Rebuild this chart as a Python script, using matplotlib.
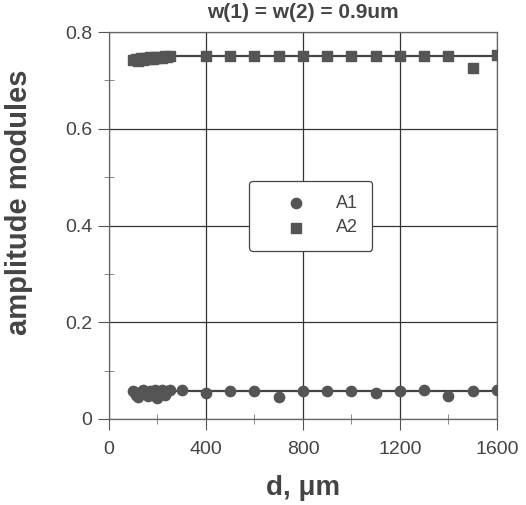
import matplotlib
matplotlib.use("Agg")
import matplotlib.pyplot as plt
from matplotlib.ticker import MultipleLocator

plt.rcParams["font.family"] = ["Liberation Sans", "DejaVu Sans"]

# A1 (circles)
d_a1 = [100, 110, 120, 130, 140, 150, 160, 170, 180, 190, 200, 210, 220, 230, 240, 250,
        300, 400, 500, 600, 700, 800, 900, 1000, 1100, 1200, 1300, 1400, 1500, 1600]
a1 = [0.058, 0.050, 0.045, 0.056, 0.060, 0.052, 0.047, 0.058, 0.050, 0.060, 0.044,
      0.055, 0.060, 0.050, 0.058, 0.060,
      0.059, 0.054, 0.058, 0.058, 0.046, 0.058, 0.058, 0.058, 0.054, 0.058, 0.059,
      0.047, 0.058, 0.059]

# A2 (squares)
d_a2 = [100, 110, 120, 130, 140, 150, 160, 170, 180, 190, 200, 210, 220, 230, 240, 250,
        400, 500, 600, 700, 800, 900, 1000, 1100, 1200, 1300, 1400, 1500, 1600]
a2 = [0.742, 0.744, 0.741, 0.746, 0.743, 0.747, 0.744, 0.748, 0.745, 0.748, 0.746,
      0.749, 0.747, 0.750, 0.748, 0.750,
      0.750, 0.750, 0.750, 0.750, 0.750, 0.750, 0.750, 0.750, 0.750, 0.750, 0.750,
      0.726, 0.752]

fit_a1 = 0.057
fit_a2 = 0.750
fit_range = [100, 1600]

x_ticks = [0, 400, 800, 1200, 1600]
x_labels = ["0", "400", "800", "1200", "1600"]
y_ticks = [0, 0.2, 0.4, 0.6, 0.8]
y_labels = ["0", "0.2", "0.4", "0.6", "0.8"]

fig = plt.figure(figsize=(5.26, 5.05), dpi=100)
ax = fig.add_axes([0.2072, 0.1703, 0.7376, 0.7663])

mc = "#555555"
tc = "#444444"

ax.plot(fit_range, [fit_a1] * 2, color="#444444", lw=1.6, zorder=2)
ax.plot(fit_range, [fit_a2] * 2, color="#444444", lw=1.6, zorder=2)
ax.scatter(d_a1, a1, marker="o", s=55, color=mc, zorder=3, label="A1")
ax.scatter(d_a2, a2, marker="s", s=45, color=mc, zorder=3, label="A2")

ax.set_xticks(x_ticks)
ax.set_xticklabels(x_labels)
ax.set_yticks(y_ticks)
ax.set_yticklabels(y_labels)
ax.xaxis.set_minor_locator(MultipleLocator(200))
ax.yaxis.set_minor_locator(MultipleLocator(0.1))
ax.set_xlim(0, 1600)
ax.set_ylim(0, 0.8)

ax.grid(True, which="major", color="#333333", lw=0.9)
ax.tick_params(which="major", direction="out", length=8, color="#555555",
               labelsize=14, labelcolor=tc)
ax.tick_params(axis="x", which="major", pad=8)
ax.tick_params(axis="y", which="major", pad=4)
ax.tick_params(which="minor", direction="inout", length=7, color="#777777")
for sp in ax.spines.values():
    sp.set_color("#666666")
    sp.set_linewidth(0.9)

ax.set_xlabel("d, \u03bcm", fontsize=20, fontweight="bold", color=tc, labelpad=12)
ax.set_ylabel("amplitude modules", fontsize=21, fontweight="bold", color=tc)
ax.yaxis.set_label_coords(-0.196, 0.56)
ax.set_title("w(1) = w(2) = 0.9um", fontsize=15, fontweight="bold", color=tc, pad=10)

leg = ax.legend(loc="center", bbox_to_anchor=(0.52, 0.525), fontsize=13,
                markerfirst=True, handlelength=3.6, handletextpad=0.4,
                borderpad=0.8, labelspacing=0.4, fancybox=True, framealpha=1,
                edgecolor="#444444", borderaxespad=0)
for t in leg.get_texts():
    t.set_color(tc)
leg.get_frame().set_linewidth(0.9)

fig.savefig("out.png", dpi=100)
